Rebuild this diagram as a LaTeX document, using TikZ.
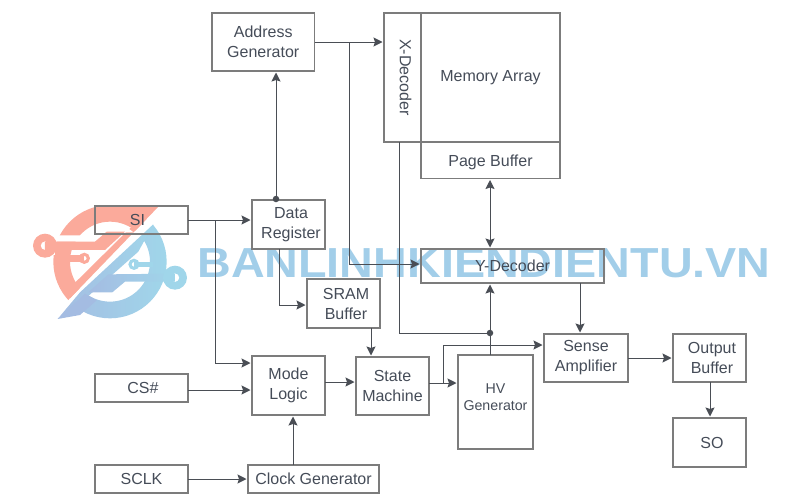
\documentclass[tikz,border=0pt]{standalone}
\usepackage{xcolor,amsmath,amssymb,amsfonts}
\usepackage{fontspec}
\setmainfont{Liberation Sans}
\usepackage{tikz}
\usetikzlibrary{arrows.meta}
\definecolor{boxcol}{HTML}{7C7C7C}
\definecolor{linecol}{HTML}{4A4E55}
\definecolor{txtcol}{HTML}{454C58}
\definecolor{salmon}{HTML}{FBAA9B}
\definecolor{wblue}{HTML}{A0D6EA}
\definecolor{wpurple}{HTML}{A4BCE2}
\definecolor{wtext}{HTML}{A2CEE9}
\tikzset{
    box/.style={draw=boxcol,line width=1.2pt,text=txtcol,align=center,inner sep=0pt,outer sep=0pt,font=\fontsize{16}{20}\selectfont},
    link/.style={draw=linecol,line width=1pt,-{Stealth[length=9pt,width=9pt,inset=1.5pt]},shorten >=1.5pt},
    plain/.style={draw=linecol,line width=1pt},
    dot/.style={circle,fill=linecol,inner sep=0pt,minimum size=6.5pt},
    brand/.style={text=wtext,font=\bfseries\fontsize{42}{42}\selectfont,inner sep=0pt},
}

\begin{document}
\begin{tikzpicture}[x=1pt,y=-1pt]
    \useasboundingbox(0,0) rectangle (811,501);
    \begin{scope}[shift={(25,195)},x=0.3333pt,y=-0.3333pt]
        \begin{scope}
            \clip(420,15) -- (125,320) -- (0,320) -- (0,0) -- (420,0) -- cycle;
            \fill[salmon,even odd rule](255,200) circle (170) (255,200) circle (120);
        \end{scope}
        \fill[salmon](295,33) -- (405,30) -- (135,310) -- (135,278) -- (330,85) -- cycle;
        \fill[white](70,121) -- (228,121) -- (210,140) -- (70,140) -- cycle;
        \fill[white](215,112) .. controls (250,80) and (290,80) .. (325,112) -- cycle;
        \fill[salmon](60,140) -- (210,140) -- (245,110) -- (300,110) -- (240,165) -- (60,165) -- cycle;
        \fill[salmon](135,180) -- (178,180) -- (178,200) -- (135,200) -- cycle;
        \fill[white](75,166) -- (90,166) -- (90,180) -- (75,180) -- cycle;
        \fill[salmon,even odd rule](60,152) circle (36) (60,152) circle (13);
        \fill[salmon,even odd rule](178,190) circle (17) (178,190) circle (7);
        \begin{scope}
            \clip(385,88) -- (98,372) -- (440,372) -- (440,88) -- cycle;
            \shade[left color=wpurple,right color=wblue,even odd rule](255,200) circle (170) (255,200) circle (120);
        \end{scope}
        \shade[left color=wpurple,right color=wblue](385,88) -- (340,170) -- (180,312) -- (98,372) -- (165,292) -- cycle;
        \fill[wpurple](98,372) -- (165,360) -- (215,316) -- (180,296) -- cycle;
        \shade[left color=wpurple,right color=wblue](190,292) -- (250,238) -- (450,236) -- (450,260) -- (300,260) -- (262,292) -- cycle;
        \fill[wblue](327,200) -- (385,200) -- (385,216) -- (327,216) -- cycle;
        \fill[wblue,even odd rule](450,248) circle (36) (450,248) circle (13);
        \fill[wblue,even odd rule](327,208) circle (17) (327,208) circle (7);
    \end{scope}
    \node[brand] at(484,263)(wmark){\scalebox{1.112}[1]{BANLINHKIENDIENTU.VN}};
    \foreach\n/\cx/\cy/\bw/\bh/\txt in{
        addrgen/263.25/42/102.5/58/{Address\\Generator},
        xdec/402.5/77.5/37/129/{\hspace{6pt}\rotatebox{-90}{X-Decoder}},
        memarr/490.5/77.5/139/129/{Memory Array},
        pagebuf/490.5/160.25/139/36.5/{\raisebox{-1.5pt}[9pt][0pt]{Page Buffer}},
        datareg/288.5/224.5/73/49/{\hspace{5pt}Data\\\hspace{5pt}Register},
        si/141.5/220/93/28/{SI\hspace{8pt}},
        srambuf/343.5/303.5/73/49/{\hspace{5pt}SRAM\\\hspace{5pt}Buffer},
        modelog/288.5/385.5/73/59/{Mode\\Logic},
        statem/392.5/386/73/58/{State\\Machine},
        cs/141.5/388/93/28/{\hspace{3pt}CS\#},
        sclk/141.5/479/93/28/{SCLK},
        clkgen/313.5/479/131/28/{Clock Generator},
        ydec/512.5/266/183/34/{Y-Decoder},
        sense/586/358/84/48/{Sense\\Amplifier},
        outbuf/709.5/358/73/48/{\hspace{5pt}Output\\\hspace{5pt}Buffer},
        so/709.5/442.5/73/49/{\hspace{5pt}SO}%
    }{
        \node[box,minimum width=\bw pt,minimum height=\bh pt] at(\cx,\cy)(\n){\txt};
    }
    \node[box,minimum width=75pt,minimum height=94pt,font=\fontsize{14.2}{17}\selectfont] at(495.5,402)(hvgen){HV\\Generator\\[-8pt]};
    \foreach\n/\cx/\cy in{
        addrtap/349/42,
        ydecin/421/264,
        datatop/276/199,
        sitap/215/220,
        modein/252/363,
        csin/252/390,
        dataout/279/249,
        sramin/307/305,
        sramout/371/328,
        modeout/325/382,
        clkout/293/465,
        sclkout/188/479,
        stateout/429/383,
        statetap/443/383,
        sensein/544/345,
        xout/399/142,
        hvtop/490/355,
        ydecout/580/283,
        senseout/628/358,
        bufout/710/382%
    }{
        \coordinate(\n) at(\cx,\cy);
    }
    \draw[link](addrgen.east) -- (addrgen.east -| xdec.west);
    \draw[link](addrtap) |- (ydecin);
    \draw[link](datatop) -- (datatop |- addrgen.south);
    \draw[link](si.east) -- (si.east -| datareg.west);
    \draw[link](sitap) |- (modein);
    \draw[link](si.east |- csin) -- (csin);
    \draw[link](dataout) |- (sramin);
    \draw[link](sramout) -- (sramout |- statem.north);
    \draw[link](modeout) -- (modeout -| statem.west);
    \draw[link](clkout) -- (clkout |- modelog.south);
    \draw[link](sclkout) -- (sclkout -| clkgen.west);
    \draw[link](stateout) -- (stateout -| hvgen.west);
    \draw[link](statetap) |- (sensein);
    \draw[link](hvtop) -- (hvtop |- ydec.south);
    \node[dot] at(490,333)(hvdot){};
    \draw[plain](xout) |- (hvdot);
    \draw[link,{Stealth[length=9pt,width=9pt,inset=1.5pt]}-{Stealth[length=9pt,width=9pt,inset=1.5pt]},shorten <=1.5pt](hvtop |- pagebuf.south) -- (hvtop |- ydec.north);
    \draw[link](ydecout) -- (ydecout |- sense.north);
    \draw[link](senseout) -- (senseout -| outbuf.west);
    \draw[link](bufout) -- (bufout |- so.north);
    \node[dot] at(datatop)(datadot){};
\end{tikzpicture}
\end{document}
